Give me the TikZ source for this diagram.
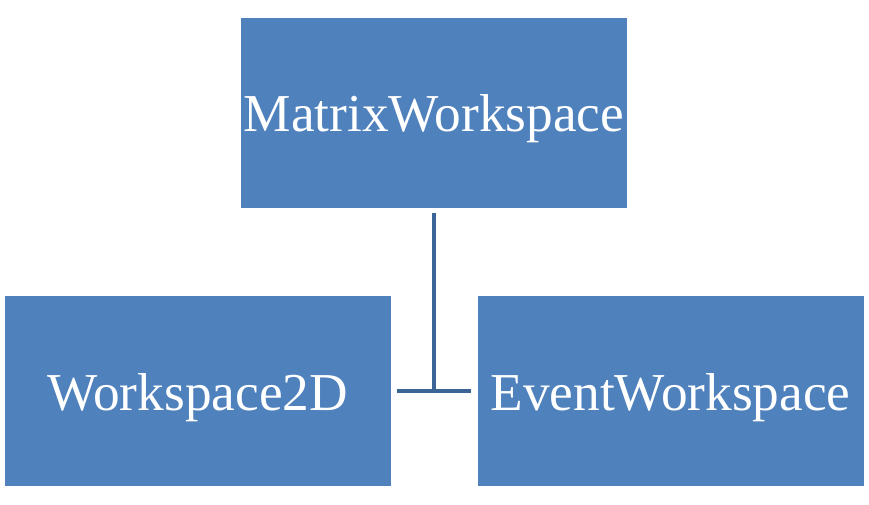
\documentclass[tikz,border=0pt]{standalone}
\usepackage{fontspec}
\setmainfont{Liberation Serif}
\usetikzlibrary{calc,positioning}
\definecolor{wsblue}{HTML}{4F81BD}
\definecolor{wsline}{HTML}{3B6596}
\tikzset{
     ws node/.style={fill=wsblue, text=white, minimum width=386pt, minimum height=190pt,
                     inner sep=0pt, text height=38pt, text depth=0pt,
                     font=\fontsize{53.3}{60}\selectfont},
      treeedge/.style   = {wsline, line width=4pt},
    }

\begin{document}
\begin{tikzpicture}[x=1pt,y=-1pt]
        \useasboundingbox (0,0) rectangle (869,505);
        \node [ws node] (matrix) at (434,113)  {MatrixWorkspace};
        \node [ws node] (ws2d)   at (197.5,391) {Workspace2D};
        \node [ws node] (event)  at (670.5,391) {EventWorkspace};

        \coordinate (joint) at (matrix.south |- ws2d.east);
        \draw [treeedge] ($(matrix.south)+(0,5)$) -- (joint);
        \draw [treeedge] ($(ws2d.east)+(6,0)$) -- ($(event.west)+(-6,0)$);
    \end{tikzpicture}
\end{document}
